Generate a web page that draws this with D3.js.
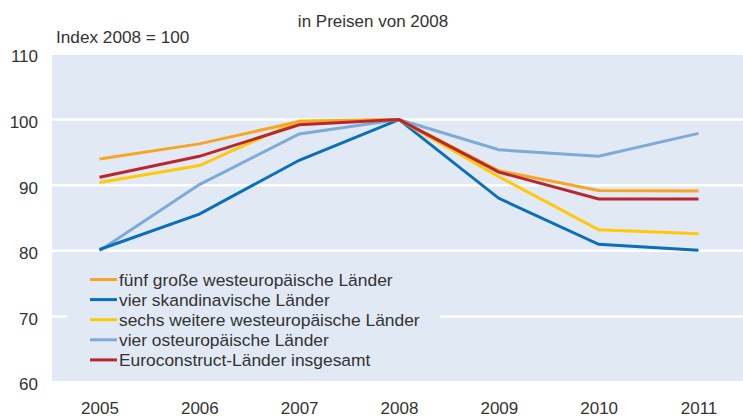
<!DOCTYPE html>
<html>
<head>
<meta charset="utf-8">
<script src="https://cdn.jsdelivr.net/npm/d3@7"></script>
<style>
  body { margin: 0; background: #fff; }
  svg text { font-family: "Liberation Sans", Arial, sans-serif; fill: #333; }
</style>
</head>
<body>
<div id="chart"></div>
<script>
// Daten: Bauvolumen, Index 2008 = 100
const years = ['2005', '2006', '2007', '2008', '2009', '2010', '2011'];
const yTicks = [60, 70, 80, 90, 100, 110];

const seriesNames = [
  'fünf große westeuropäische Länder',
  'vier skandinavische Länder',
  'sechs weitere westeuropäische Länder',
  'vier osteuropäische Länder',
  'Euroconstruct-Länder insgesamt',
];
const seriesColors = ['#f6a623', '#0a6fb7', '#ffc90a', '#7eaad6', '#b9262f'];

const fuenfGross   = [94.0, 96.3, 99.7, 100, 92.2, 89.2, 89.1];
const skandinavien = [80.2, 85.6, 93.8, 100, 88.0, 81.0, 80.1];
const sechsWeitere = [90.4, 93.0, 99.8, 100, 91.3, 83.2, 82.6];
const osteuropa    = [80.0, 90.1, 97.8, 100, 95.4, 94.4, 97.9];
const insgesamt    = [91.2, 94.4, 99.2, 100, 92.0, 87.9, 87.9];

const seriesValues = [fuenfGross, skandinavien, sechsWeitere, osteuropa, insgesamt];
// Zeichenreihenfolge wie im Original (rot zuletzt)
const drawOrder = [3, 1, 2, 0, 4];

const W = 743, H = 417;
const FONT = '"Liberation Sans", Arial, sans-serif';
const svg = d3.select('#chart').append('svg').attr('width', W).attr('height', H);

const plot = { left: 52, right: 743, top: 54, bottom: 382 };

const x = d3.scalePoint().domain(years).range([99.5, 698.5]);
const y = d3.scaleLinear().domain([60, 110]).range([plot.bottom, plot.top]);

// Hintergrund
svg.append('rect')
  .attr('x', plot.left).attr('y', y(110) + 1)
  .attr('width', plot.right - plot.left).attr('height', y(60) - y(110) - 2)
  .attr('fill', '#e1e9f4');

// Gitterlinien
svg.append('g').selectAll('line')
  .data(yTicks.filter(d => d > 60 && d < 110)).join('line')
  .attr('x1', plot.left).attr('x2', plot.right)
  .attr('y1', d => y(d)).attr('y2', d => y(d))
  .attr('stroke', '#fff').attr('stroke-width', 2.5);

// y-Achse
svg.append('g').attr('transform', 'translate(38,2.5)')
  .call(d3.axisLeft(y).tickValues(yTicks).tickSize(0).tickPadding(0))
  .call(g => g.select('.domain').remove())
  .selectAll('text').attr('font-size', 17).attr('fill', '#333').attr('font-family', FONT);

// x-Achse
svg.append('g').attr('transform', 'translate(0,402)')
  .call(d3.axisBottom(x).tickSize(0).tickPadding(0))
  .call(g => g.select('.domain').remove())
  .selectAll('text').attr('font-size', 17).attr('fill', '#333').attr('font-family', FONT);

// Titel
svg.append('text').attr('x', 373).attr('y', 27).attr('text-anchor', 'middle')
  .attr('font-size', 17).text('in Preisen von 2008');
svg.append('text').attr('x', 56).attr('y', 43)
  .attr('font-size', 17.2).text('Index 2008 = 100');

// Legende (unterbricht die 70er-Linie)
const legend = svg.append('g');
legend.append('rect').attr('x', 67).attr('y', 268).attr('width', 373).attr('height', 104)
  .attr('fill', '#e1e9f4');
seriesNames.forEach((name, i) => {
  const ly = 279.5 + i * 20.1;
  legend.append('line').attr('x1', 90).attr('x2', 117).attr('y1', ly).attr('y2', ly)
    .attr('stroke', seriesColors[i]).attr('stroke-width', 3);
  legend.append('text').attr('x', 119).attr('y', ly).attr('dy', '0.35em')
    .attr('font-size', 17.4).text(name);
});

// Linien
const line = d3.line().x((d, i) => x(years[i])).y(d => y(d));
svg.append('g').selectAll('path')
  .data(drawOrder).join('path')
  .attr('d', i => line(seriesValues[i]))
  .attr('fill', 'none')
  .attr('stroke', i => seriesColors[i])
  .attr('stroke-width', 3)
  .attr('stroke-linejoin', 'miter');
</script>
</body>
</html>
